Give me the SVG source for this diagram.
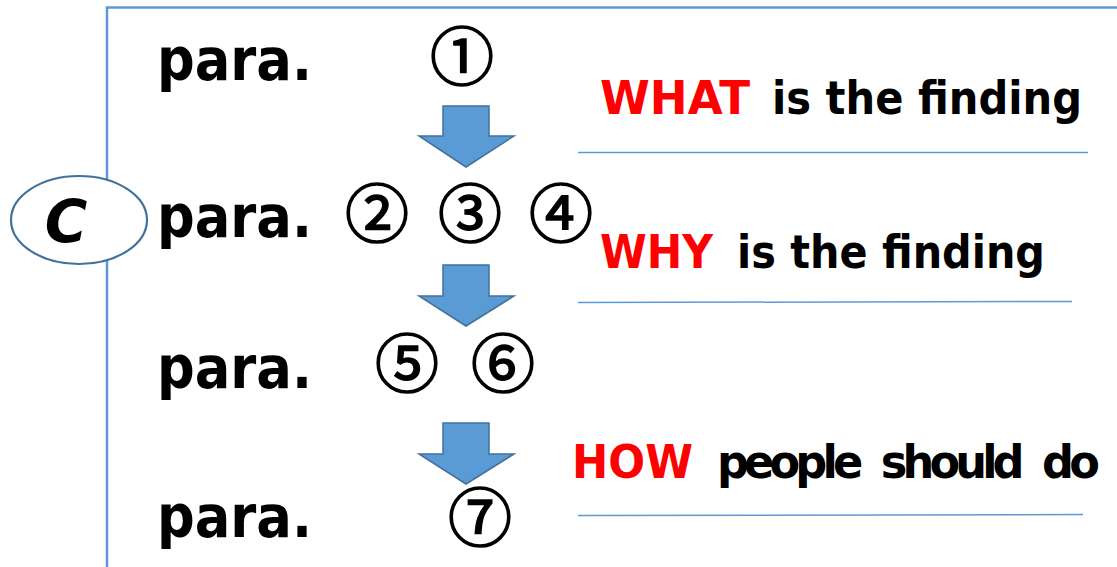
<svg xmlns="http://www.w3.org/2000/svg" width="1117" height="567" viewBox="0 0 1117 567">
<style>
.frame{stroke:#5b9bd5;stroke-width:2.5;fill:none}
.rule{stroke:#5b9bd5;stroke-width:1.5;fill:none}
.arrow{fill:#5b9bd5;stroke:#41719c;stroke-width:1.5;stroke-linejoin:miter}
.para{font-family:"DejaVu Sans",sans-serif;font-weight:bold;font-size:58px;fill:#000}
.num{font-family:"Noto Sans CJK JP","DejaVu Sans",sans-serif;font-size:64px;fill:#000;stroke:#000;stroke-width:1.6;text-anchor:middle}
.lbl{font-family:"DejaVu Sans",sans-serif;font-weight:bold;font-size:46px}
.red{fill:#ff0000}
.blk{fill:#000}
</style>
<rect width="1117" height="567" fill="#ffffff"/>
<g id="frame">
<path class="frame" d="M107,567 V7.5 H1117"/>
</g>
<g id="c-node">
<ellipse cx="79" cy="220" rx="68" ry="44" fill="#ffffff" stroke="#41719c" stroke-width="2.2"/>
<text x="66" y="242" class="para" font-size="52" font-style="italic" text-anchor="middle">C</text>
</g>
<g id="row1">
<text x="157" y="80" class="para" textLength="155" lengthAdjust="spacingAndGlyphs">para.</text>
<text x="462" y="80" class="num">①</text>
</g>
<g id="row2">
<text x="157" y="237" class="para" textLength="155" lengthAdjust="spacingAndGlyphs">para.</text>
<text x="377" y="237" class="num">②</text>
<text x="470" y="237" class="num">③</text>
<text x="561" y="237" class="num">④</text>
</g>
<g id="row3">
<text x="157" y="388" class="para" textLength="155" lengthAdjust="spacingAndGlyphs">para.</text>
<text x="407" y="387" class="num">⑤</text>
<text x="503" y="387" class="num">⑥</text>
</g>
<g id="row4">
<text x="157" y="537" class="para" textLength="155" lengthAdjust="spacingAndGlyphs">para.</text>
<text x="480" y="541" class="num">⑦</text>
</g>
<g id="connectors">
<polygon class="arrow" points="443,106 489,106 489,136 514,136 466,167 419,136 443,136"/>
<polygon class="arrow" points="443,265 489,265 489,296 514,296 466,326 419,296 443,296"/>
<polygon class="arrow" points="443,423 489,423 489,454 514,454 466,484 419,454 443,454"/>
</g>
<g id="what">
<text x="600" y="114" class="lbl red" textLength="150" lengthAdjust="spacingAndGlyphs">WHAT</text>
<text x="772" y="114" class="lbl blk" textLength="310" lengthAdjust="spacingAndGlyphs">is the finding</text>
<line class="rule" x1="578" y1="152.5" x2="1088" y2="152.5"/>
</g>
<g id="why">
<text x="600" y="268" class="lbl red" textLength="113" lengthAdjust="spacingAndGlyphs">WHY</text>
<text x="737" y="268" class="lbl blk" textLength="308" lengthAdjust="spacingAndGlyphs">is the finding</text>
<line class="rule" x1="578" y1="302.5" x2="1072" y2="301.5"/>
</g>
<g id="how">
<text x="572" y="478" class="lbl red" textLength="121" lengthAdjust="spacingAndGlyphs">HOW</text>
<text x="717" y="478" class="lbl blk" font-size="44" letter-spacing="-5" word-spacing="12" textLength="378" lengthAdjust="spacingAndGlyphs">people should do</text>
<line class="rule" x1="578" y1="515.5" x2="1083" y2="514.5"/>
</g>
</svg>
